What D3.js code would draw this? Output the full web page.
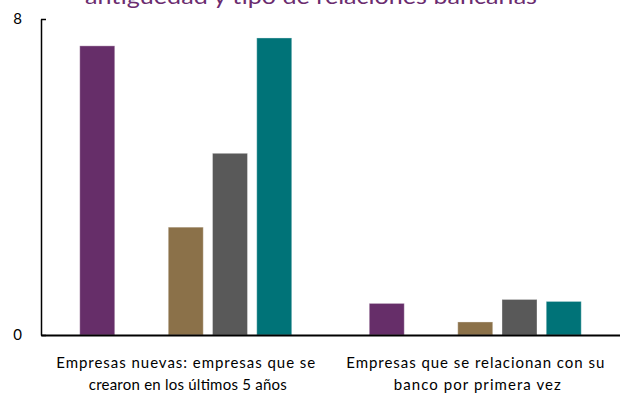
<!DOCTYPE html>
<html>
<head>
<meta charset="utf-8">
<script src="https://cdn.jsdelivr.net/npm/d3@7"></script>
<style>
  html, body { margin: 0; padding: 0; background: #fff; }
  svg { display: block; }
  text { font-family: Lato, "Open Sans", sans-serif; }
</style>
</head>
<body>
<svg id="chart" width="620" height="393"></svg>
<script>
// ---- data ----
const titleText = "antigüedad y tipo de relaciones bancarias";
const categories = ["g1", "g2"];
const categoryLines = [
  ["Empresas nuevas: empresas que se", "crearon en los últimos 5 años"],
  ["Empresas que se relacionan con su", "banco por primera vez"]
];
const seriesNames = ["Serie 1", "Serie 2", "Serie 3", "Serie 4", "Serie 5"];
const seriesColors = ["#662E69", "#C9B07A", "#8B7149", "#595959", "#007378"];
const values = [
  // one array per category, one value per series (null = no bar)
  [7.32, null, 2.73, 4.60, 7.52],
  [0.80, null, 0.33, 0.90, 0.85]
];
const yTicks = [0, 8];

// ---- layout ----
const svg = d3.select("#chart");
const margin = { left: 41, right: 0, top: 19, bottom: 58 };
const W = 620, H = 393;
const x0 = margin.left, x1 = W - margin.right;
const yBase = H - margin.bottom;

const x = d3.scaleBand().domain(categories).range([x0, x1]).padding(0);
const xs = d3.scaleBand().domain(seriesNames).range([0, x.bandwidth()])
  .paddingInner(0.209).paddingOuter(0.876);
const y = d3.scaleLinear().domain([0, 8]).range([yBase, margin.top]);

// title (partly clipped at top)
svg.append("text")
  .attr("x", 311).attr("y", 4)
  .attr("text-anchor", "middle")
  .attr("fill", "#6B2C6F")
  .attr("font-size", 22)
  .attr("textLength", 452).attr("lengthAdjust", "spacingAndGlyphs")
  .text(titleText);

// bars
const groups = svg.selectAll("g.grp").data(categories).join("g")
  .attr("class", "grp")
  .attr("transform", d => `translate(${x(d)},0)`);

groups.each(function(cat, ci) {
  const g = d3.select(this);
  const rows = seriesNames.map((s, si) => ({ s, si, v: values[ci][si] }))
    .filter(d => d.v != null);
  g.selectAll("rect").data(rows).join("rect")
    .attr("x", d => xs(d.s))
    .attr("width", xs.bandwidth())
    .attr("y", d => y(d.v))
    .attr("height", d => y(0) - y(d.v))
    .attr("fill", d => seriesColors[d.si])
    .attr("stroke", "#ffffff")
    .attr("stroke-opacity", 0.35)
    .attr("stroke-width", 1);
});

// y axis
const yAxis = d3.axisLeft(y).tickValues(yTicks).tickSize(-5).tickSizeOuter(0)
  .tickPadding(19).tickFormat(d3.format("d"));
const ga = svg.append("g").attr("transform", `translate(${x0},0)`).call(yAxis);
ga.select(".domain").attr("stroke", "#000").attr("stroke-width", 1.5);
ga.selectAll(".tick line").attr("stroke", "#000").attr("stroke-width", 1.5);
ga.selectAll(".tick text").attr("font-size", 15).attr("fill", "#000")
  .attr("font-family", "Lato, sans-serif");

// x axis baseline + labels
const xAxis = d3.axisBottom(x).tickSize(0).tickSizeOuter(0).tickFormat("");
const gx = svg.append("g").attr("transform", `translate(0,${yBase})`).call(xAxis);
gx.select(".domain").attr("stroke", "#000").attr("stroke-width", 2);

const lineWidths = [[259, 198], [258, 167]];
categories.forEach((c, ci) => {
  categoryLines[ci].forEach((ln, li) => {
    svg.append("text")
      .attr("x", x(c) + x.bandwidth() / 2 + (li === 1 ? 2 : 0))
      .attr("y", 368 + li * 22)
      .attr("text-anchor", "middle")
      .attr("font-size", 15)
      .attr("fill", "#000")
      .attr("textLength", lineWidths[ci][li])
      .attr("lengthAdjust", "spacing")
      .text(ln);
  });
});
</script>
</body>
</html>
